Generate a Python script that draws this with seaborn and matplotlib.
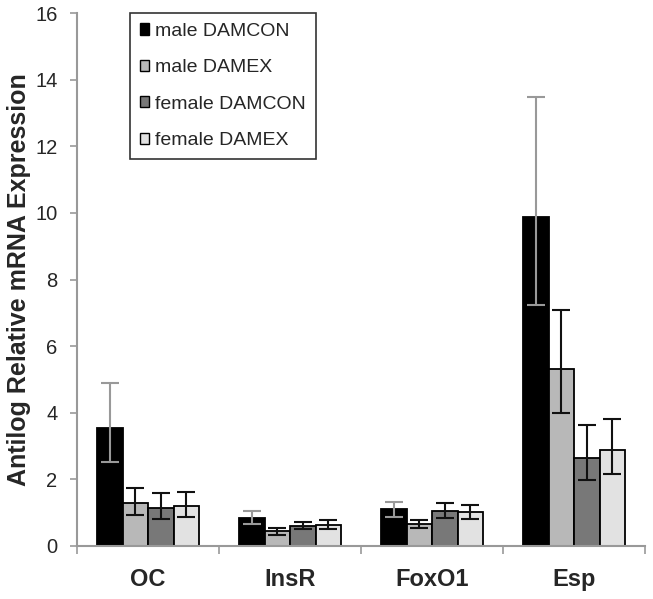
import numpy as np
import pandas as pd
import matplotlib
matplotlib.use('Agg')
import matplotlib.pyplot as plt
import seaborn as sns
from matplotlib.patches import Patch

genes = ['OC', 'InsR', 'FoxO1', 'Esp']
groups = ['male DAMCON', 'male DAMEX', 'female DAMCON', 'female DAMEX']
colors = ['#000000', '#b8b8b8', '#787878', '#e2e2e2']
err_colors = ['#999999', '#111111', '#111111', '#111111']

# bar heights per group (order of genes)
male_damcon = [3.54, 0.84, 1.11, 9.88]
male_damex = [1.29, 0.45, 0.66, 5.31]
female_damcon = [1.14, 0.60, 1.05, 2.64]
female_damex = [1.20, 0.63, 1.02, 2.88]

# error bar ends (antilog, so asymmetric)
male_damcon_lo = [2.52, 0.66, 0.87, 7.24]
male_damcon_hi = [4.89, 1.05, 1.32, 13.48]
male_damex_lo = [0.93, 0.33, 0.54, 3.99]
male_damex_hi = [1.74, 0.54, 0.78, 7.10]
female_damcon_lo = [0.81, 0.50, 0.84, 1.98]
female_damcon_hi = [1.59, 0.72, 1.29, 3.63]
female_damex_lo = [0.87, 0.50, 0.81, 2.16]
female_damex_hi = [1.62, 0.77, 1.23, 3.81]

values = [male_damcon, male_damex, female_damcon, female_damex]
lows = [male_damcon_lo, male_damex_lo, female_damcon_lo, female_damex_lo]
highs = [male_damcon_hi, male_damex_hi, female_damcon_hi, female_damex_hi]

df = pd.DataFrame({
    'gene': np.tile(genes, len(groups)),
    'group': np.repeat(groups, len(genes)),
    'value': np.concatenate(values),
})

sns.set_style('white')
plt.rcParams['font.family'] = ['Liberation Sans', 'DejaVu Sans']

fig = plt.figure(figsize=(6.53, 5.99), dpi=100)
ax = fig.add_axes([0.118, 0.0885, 0.870, 0.8895])

sns.barplot(data=df, x='gene', y='value', hue='group', order=genes,
            hue_order=groups, palette=colors, width=0.72, errorbar=None,
            edgecolor='black', linewidth=1.3, legend=False, ax=ax)

# asymmetric error bars on top of each bar
bar_conts = list(ax.containers)
for i, cont in enumerate(bar_conts):
    xs = [p.get_x() + p.get_width() / 2 for p in cont.patches]
    v = np.array(values[i])
    yerr = [v - np.array(lows[i]), np.array(highs[i]) - v]
    ax.errorbar(xs, v, yerr=yerr, fmt='none', ecolor=err_colors[i],
                elinewidth=1.5, capsize=6.5, capthick=1.5, zorder=5)

ax.set_ylim(0, 16)
ax.set_xlim(-0.5, len(genes) - 0.5)
ax.set_yticks(np.arange(0, 17, 2))
ax.tick_params(axis='y', labelsize=14.5, length=5, width=1.2, color='#999999',
               left=True, pad=9)
ax.set_xticks(np.arange(-0.5, len(genes), 1), minor=True)
ax.tick_params(axis='x', which='major', length=0, labelsize=17, pad=16)
ax.tick_params(axis='x', which='minor', length=6, width=1.2,
               color='#999999', bottom=True, direction='out')
for lab in ax.get_xticklabels():
    lab.set_fontweight('bold')

ax.set_xlabel('')
ax.set_ylabel('Antilog Relative mRNA Expression', fontsize=18,
              fontweight='bold', labelpad=3)

sns.despine(ax=ax)
for s in ['left', 'bottom']:
    ax.spines[s].set_color('#999999')
    ax.spines[s].set_linewidth(1.5)

handles = [Patch(facecolor=c, edgecolor='black', linewidth=1) for c in colors]
leg = ax.legend(handles, groups, loc='upper left', bbox_to_anchor=(0.093, 1.0),
                borderaxespad=0, fontsize=14, frameon=True, fancybox=False,
                handlelength=0.5, handleheight=0.5, handletextpad=0.3,
                labelspacing=1.0, borderpad=0.5)
leg.get_frame().set_edgecolor('black')
leg.get_frame().set_linewidth(1.2)

fig.savefig('out.png', dpi=100)
